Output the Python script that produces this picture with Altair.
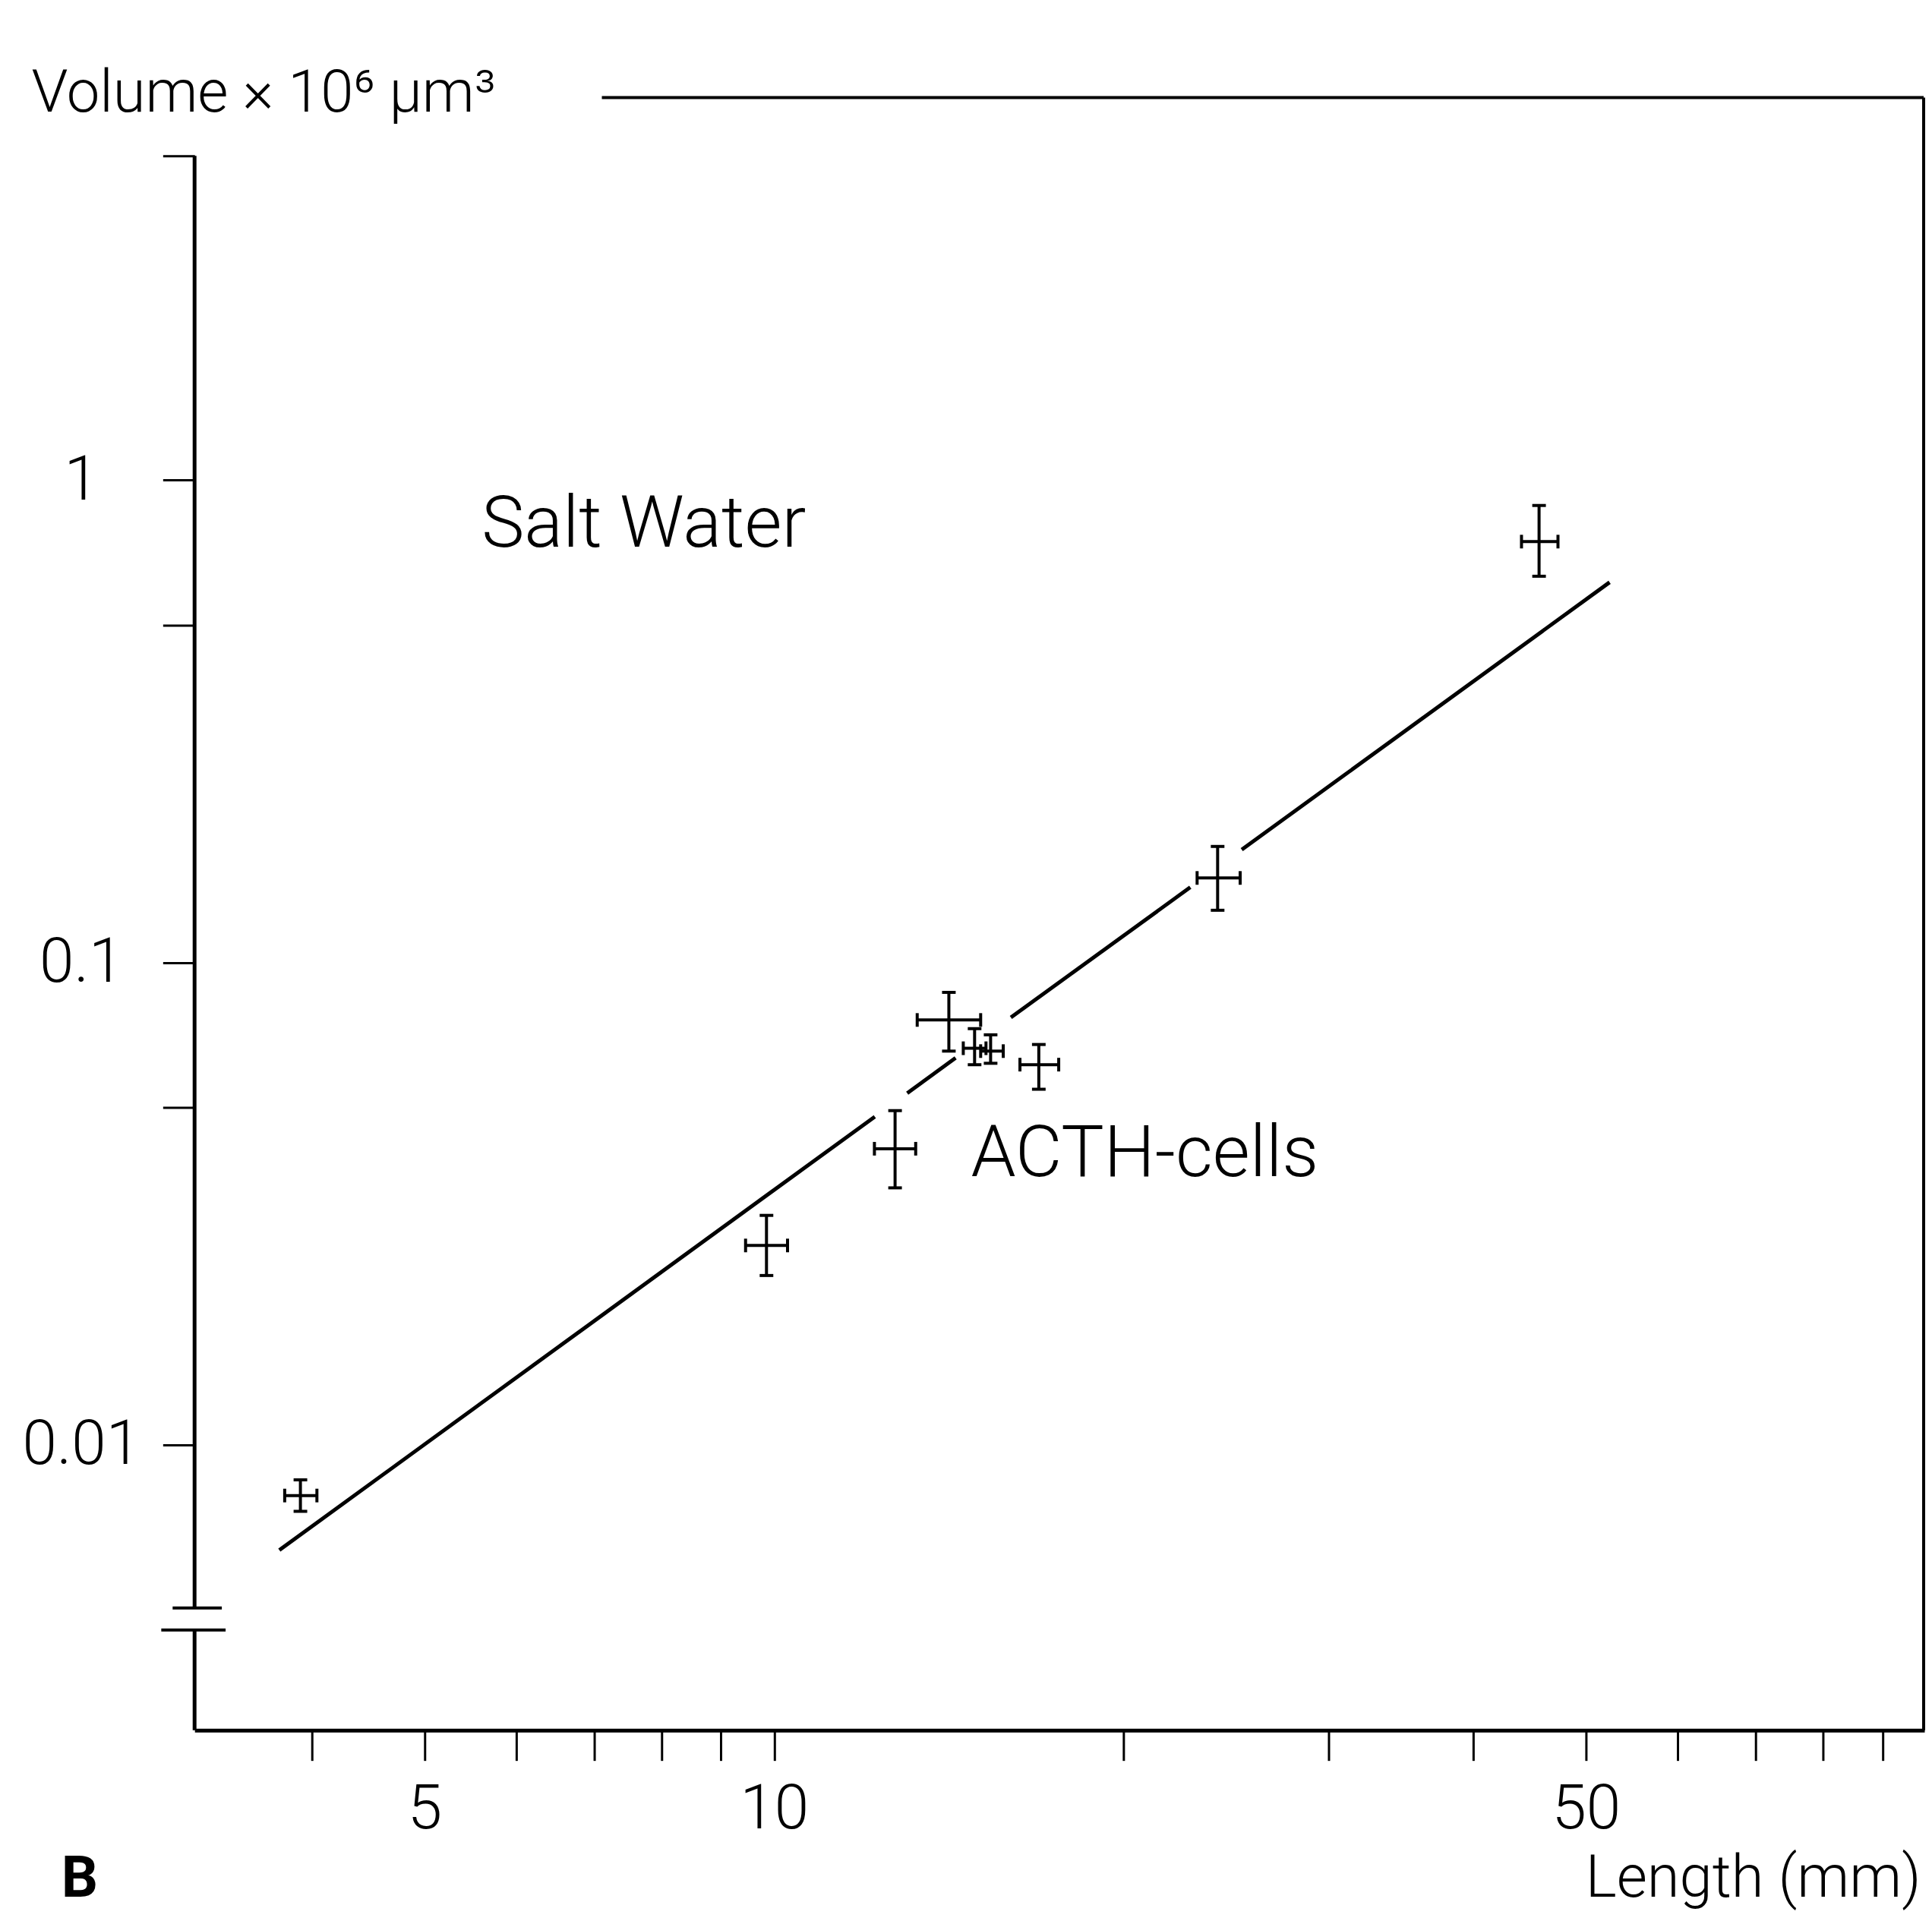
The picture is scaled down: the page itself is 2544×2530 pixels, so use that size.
import altair as alt
import pandas as pd

# ---- data ----
LENGTH = [3.91, 9.85, 12.71, 14.14, 14.88, 15.36, 16.90, 24.09, 45.56]
VOLUME = [0.00785, 0.0259, 0.0411, 0.0760, 0.0664, 0.0655, 0.0614, 0.1497, 0.7456]
LENGTH_LO = [3.79, 9.45, 12.20, 13.28, 14.55, 15.06, 16.28, 23.13, 44.0]
LENGTH_HI = [4.04, 10.27, 13.24, 15.06, 15.22, 15.75, 17.58, 25.19, 47.3]
VOLUME_LO = [0.00728, 0.02244, 0.0341, 0.0655, 0.0614, 0.0618, 0.0546, 0.1283, 0.632]
VOLUME_HI = [0.00846, 0.0299, 0.0493, 0.0867, 0.0729, 0.0708, 0.0676, 0.174, 0.886]

# regression line, drawn in pieces (gaps where it passes the points)
SEG_L1 = [3.75, 13.02, 15.99, 25.27]
SEG_V1 = [0.00605, 0.0536, 0.0769, 0.1713]
SEG_L2 = [12.21, 14.33, 22.82, 52.4]
SEG_V2 = [0.0479, 0.0634, 0.1432, 0.614]

NOTE_TEXT = ["Salt Water", "ACTH-cells"]
NOTE_L = [5.60, 14.77]
NOTE_V = [0.728, 0.036]

X_MIN, X_MAX = 3.17, 97.8
Y_MIN, Y_TOP = 0.00256, 4.7
BREAK_HI, BREAK_LO = 0.00459, 0.00413

X_TICKS = [4, 5, 6, 7, 8, 9, 10, 20, 30, 40, 50, 60, 70, 80, 90]
X_LABELS = [5, 10, 50]
Y_TICKS = [Y_TOP, 1, 0.5, 0.1, 0.05, 0.01]
Y_LABELS = {1: "1", 0.1: "0.1", 0.01: "0.01"}

X_TITLE = "Length (mm)"
Y_TITLE = "Volume × 10⁶ μm³"
PANEL = "B"

W, H = 2285, 2080
FONT = "Roboto"

pts = pd.DataFrame({"L": LENGTH, "V": VOLUME, "L_lo": LENGTH_LO, "L_hi": LENGTH_HI,
                    "V_lo": VOLUME_LO, "V_hi": VOLUME_HI})
segs = pd.DataFrame({"L1": SEG_L1, "V1": SEG_V1, "L2": SEG_L2, "V2": SEG_V2})
notes = pd.DataFrame({"L": NOTE_L, "V": NOTE_V, "t": NOTE_TEXT})
yline = pd.DataFrame({"a": [Y_TOP, BREAK_LO], "b": [BREAK_HI, Y_MIN]})
brk_hi = pd.DataFrame({"y": [BREAK_HI]})
brk_lo = pd.DataFrame({"y": [BREAK_LO]})
one = pd.DataFrame({"t": [PANEL]})

xs = alt.Scale(type="log", domain=[X_MIN, X_MAX], nice=False)
ys = alt.Scale(type="log", domain=[Y_MIN, Y_TOP], nice=False)

x_expr = " || ".join(f"datum.value == {v}" for v in X_LABELS)
X_AXIS = alt.Axis(
    values=X_TICKS, labelExpr=f"({x_expr}) ? datum.value + '' : ''",
    tickSize=40, tickWidth=3, tickColor="black", domainWidth=5, domainColor="black",
    labelFont=FONT, labelFontWeight=300, labelFontSize=82, labelColor="black",
    labelPadding=24, labelOverlap=False, labelFlush=False, grid=False,
    title=X_TITLE, titleFont=FONT, titleFontWeight=300, titleFontSize=78,
    titleColor="black", titleX=2280, titleY=219, titleAlign="right",
    titleBaseline="alphabetic",
)
y_expr = ""
for k, v in Y_LABELS.items():
    y_expr += f"datum.value == {k} ? '{v}' : "
y_expr += "''"
Y_AXIS = alt.Axis(
    values=Y_TICKS, labelExpr=y_expr, domain=False,
    tickSize=42, tickWidth=3, tickColor="black",
    labelFont=FONT, labelFontWeight=300, labelFontSize=82, labelColor="black",
    labelAlign="center", labelBaseline="middle", labelPadding=108,
    labelOverlap=False, labelFlush=False, grid=False,
    title=Y_TITLE, titleFont=FONT, titleFontWeight=300, titleFontSize=78,
    titleColor="black", titleAngle=0, titleX=-216, titleY=-59,
    titleAlign="left", titleBaseline="alphabetic",
)


def X(f):
    return alt.X(f, type="quantitative", scale=xs, axis=X_AXIS)


def Y(f):
    return alt.Y(f, type="quantitative", scale=ys, axis=Y_AXIS)


line = alt.Chart(segs).mark_rule(strokeWidth=5, color="black").encode(
    x=X("L1"), x2="L2", y=Y("V1"), y2="V2")
xbars = alt.Chart(pts).mark_rule(strokeWidth=4, color="black").encode(
    x=X("L_lo"), x2="L_hi", y=Y("V"))
ybars = alt.Chart(pts).mark_rule(strokeWidth=4, color="black").encode(
    x=X("L"), y=Y("V_lo"), y2="V_hi")
cap_kw = dict(size=18, thickness=4, color="black", opacity=1)
cap_ylo = alt.Chart(pts).mark_tick(orient="horizontal", **cap_kw).encode(x=X("L"), y=Y("V_lo"))
cap_yhi = alt.Chart(pts).mark_tick(orient="horizontal", **cap_kw).encode(x=X("L"), y=Y("V_hi"))
cap_xlo = alt.Chart(pts).mark_tick(orient="vertical", **cap_kw).encode(x=X("L_lo"), y=Y("V"))
cap_xhi = alt.Chart(pts).mark_tick(orient="vertical", **cap_kw).encode(x=X("L_hi"), y=Y("V"))

text = alt.Chart(notes).mark_text(
    align="left", baseline="alphabetic", font=FONT, fontWeight=300, fontSize=95,
    color="black").encode(x=X("L"), y=Y("V"), text="t:N")

yaxis_line = alt.Chart(yline).mark_rule(strokeWidth=5, color="black").encode(
    x=alt.value(0), y=Y("a"), y2="b")
break_hi = alt.Chart(brk_hi).mark_rule(strokeWidth=4, color="black").encode(
    x=alt.value(-29), x2=alt.value(36), y=Y("y"))
break_lo = alt.Chart(brk_lo).mark_rule(strokeWidth=4, color="black").encode(
    x=alt.value(-44), x2=alt.value(41), y=Y("y"))

frame_top = alt.Chart(one).mark_rule(strokeWidth=4, color="black").encode(
    x=alt.value(538), x2=alt.value(W - 1), y=alt.value(-77))
frame_right = alt.Chart(one).mark_rule(strokeWidth=4, color="black").encode(
    x=alt.value(W - 1), y=alt.value(-77), y2=alt.value(H))

panel = alt.Chart(one).mark_text(
    align="left", baseline="alphabetic", font=FONT, fontWeight="bold", fontSize=76,
    color="black").encode(x=alt.value(-176), y=alt.value(2300), text="t:N")

chart = alt.layer(
    line, xbars, ybars, cap_ylo, cap_yhi, cap_xlo, cap_xhi, text,
    yaxis_line, break_hi, break_lo, frame_top, frame_right, panel,
).properties(
    width=W, height=H,
    autosize=alt.AutoSizeParams(type="none"),
    padding={"left": 249, "top": 194, "right": 2, "bottom": 240},
    background="white",
).configure_view(stroke=None)

chart.save("out.html", embed_options={"renderer": "svg", "actions": False})
